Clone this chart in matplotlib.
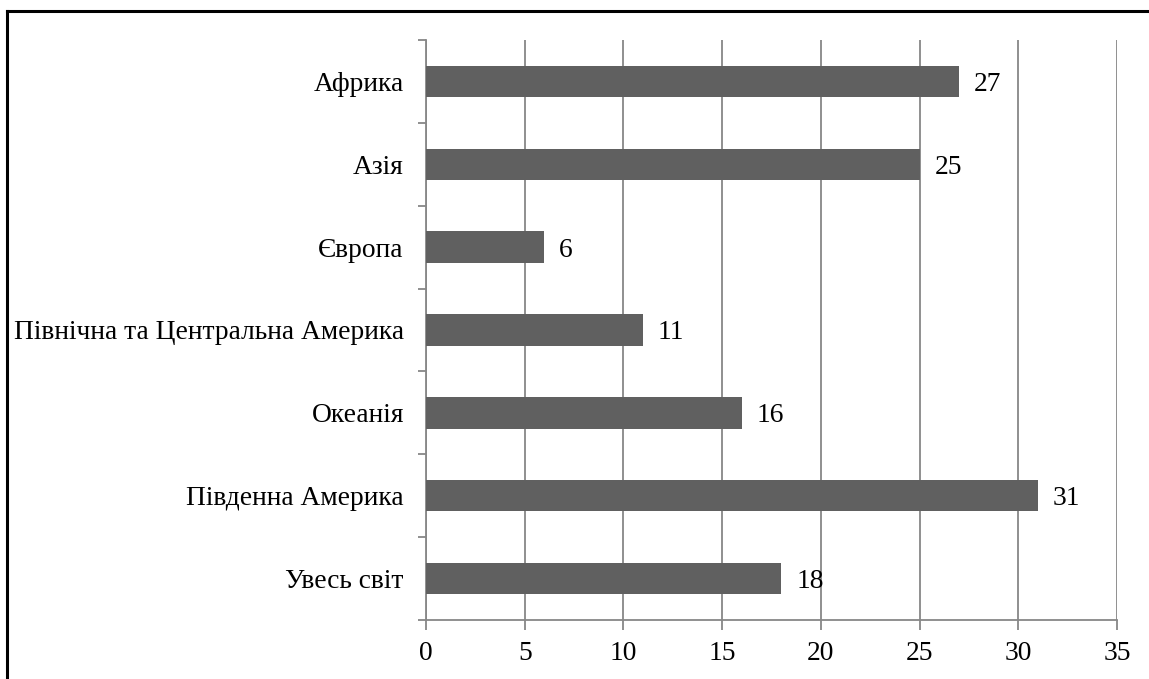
import matplotlib.pyplot as plt
from matplotlib.lines import Line2D
import numpy as np

# Regions and values (top to bottom)
regions = ['Африка', 'Азія', 'Європа', 'Північна та Центральна Америка',
           'Океанія', 'Південна Америка', 'Увесь світ']
values = [27, 25, 6, 11, 16, 31, 18]
x_ticks = [0, 5, 10, 15, 20, 25, 30, 35]

plt.rcParams['font.family'] = ['Liberation Serif', 'DejaVu Serif']
fs = 19.8

fig = plt.figure(figsize=(11.49, 6.79), dpi=100)
ax = fig.add_axes([0.3708, 0.0869, 0.6013, 0.8542])

n = len(regions)
ypos = np.arange(n)[::-1]
bars = ax.barh(ypos, values, height=0.38, color='#606060', zorder=3)

for y, v in zip(ypos, values):
    ax.text(v + 0.75, y, str(v), va='center_baseline', ha='left', fontsize=fs, zorder=4)

ax.set_xlim(0, 35)
ax.set_ylim(-0.5, n - 0.5)
ax.set_xticks(x_ticks)
ax.set_xticklabels([str(t) for t in x_ticks], fontsize=fs)
ax.set_yticks(ypos)
ax.set_yticklabels(regions, fontsize=fs, va='center_baseline')
ax.set_yticks(np.arange(-0.5, n, 1.0), minor=True)

grey = '#878787'
ax.grid(axis='x', color=grey, linewidth=1.3, zorder=0)
ax.tick_params(axis='y', which='major', length=0, pad=16)
ax.tick_params(axis='y', which='minor', length=6, width=1.3, color=grey, direction='out')
ax.tick_params(axis='x', which='major', length=7, width=1.3, color=grey, direction='out', pad=8)

for side in ['top', 'right']:
    ax.spines[side].set_visible(False)
for side in ['left', 'bottom']:
    ax.spines[side].set_color(grey)
    ax.spines[side].set_linewidth(1.3)

# outer frame (top and left edges)
fig.add_artist(Line2D([0.0061, 1.0], [0.9838, 0.9838], transform=fig.transFigure,
                      color='black', linewidth=2.2))
fig.add_artist(Line2D([0.0061, 0.0061], [0.0, 0.9838], transform=fig.transFigure,
                      color='black', linewidth=2.2))

fig.savefig('out.png', dpi=100)
